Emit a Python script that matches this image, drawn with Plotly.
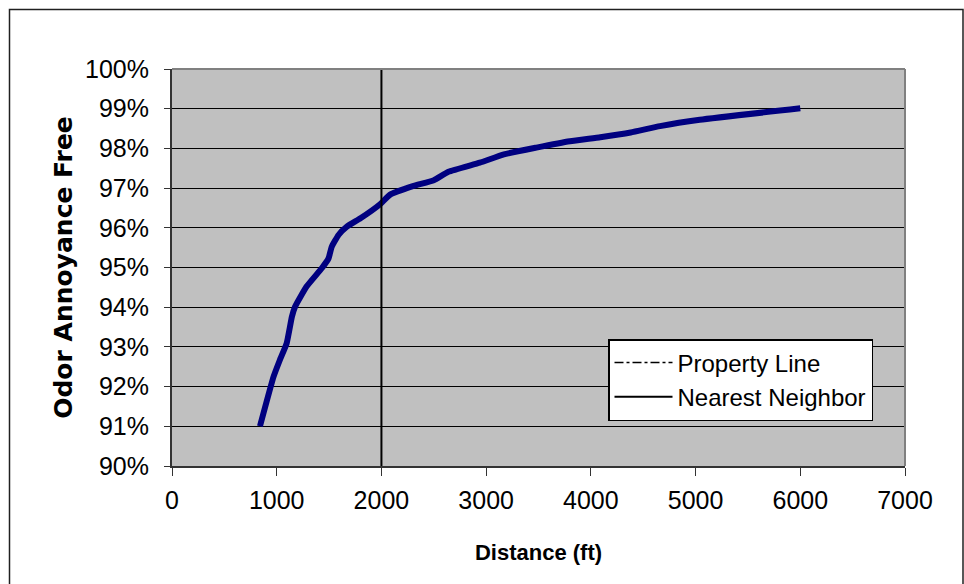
import plotly.graph_objects as go

# Odor annoyance-free frequency versus downwind distance
distance_ft = [840, 970, 1030, 1095, 1145, 1175, 1285, 1430, 1495, 1525, 1590, 1670,
               1800, 1990, 2080, 2300, 2500, 2640, 2940, 3170, 3480, 3800, 4090,
               4380, 4660, 5040, 6000]
annoyance_free = [0.9100, 0.9225, 0.9267, 0.9309, 0.9376, 0.9401, 0.9452, 0.9498,
                  0.9523, 0.9552, 0.9582, 0.9603, 0.9624, 0.9660, 0.9683, 0.9705,
                  0.9720, 0.9741, 0.9764, 0.9785, 0.9802, 0.9818, 0.9828, 0.9840,
                  0.9856, 0.9872, 0.9901]

nearest_neighbor_ft = 2000
y_range = [0.90, 1.00]
x_range = [0, 7000]

FONT = "Liberation Sans, Arial, sans-serif"
WIDE_FONT = "DejaVu Sans, Liberation Sans, sans-serif"

fig = go.Figure()

# Curve (not listed in the legend)
fig.add_trace(go.Scatter(
    x=distance_ft, y=annoyance_free, mode="lines",
    line=dict(color="#000080", width=6, shape="spline", smoothing=0.4),
    showlegend=False, hoverinfo="skip",
))

# Property line marker: legend entry only
fig.add_trace(go.Scatter(
    x=[None], y=[None], mode="lines", name="Property Line",
    line=dict(color="black", width=1.5, dash="dashdot"),
))

# Nearest neighbor distance
fig.add_trace(go.Scatter(
    x=[nearest_neighbor_ft, nearest_neighbor_ft], y=y_range, mode="lines",
    name="Nearest Neighbor", line=dict(color="black", width=2),
))

W, H = 964, 584
L, R, T, B = 172, 59, 69, 118
pw, ph = W - L - R, H - T - B


def px_x(p):
    return (p - L) / pw


def px_y(p):
    return (H - B - p) / ph


fig.update_layout(
    width=W, height=H,
    margin=dict(l=L, r=R, t=T, b=B),
    paper_bgcolor="white",
    plot_bgcolor="#C0C0C0",
    font=dict(family=FONT, color="black", size=24),
    legend=dict(
        x=px_x(608), y=px_y(339), xanchor="left", yanchor="top",
        bgcolor="white", bordercolor="black", borderwidth=1.5,
        font=dict(family=FONT, size=24, color="black"),
        tracegroupgap=0, itemwidth=58,
    ),
    xaxis=dict(
        range=x_range, dtick=1000, tick0=0,
        showgrid=False, zeroline=False,
        showline=True, linecolor="#333333", linewidth=2,
        ticks="outside", ticklen=8, tickwidth=1, tickcolor="#333333",
        tickfont=dict(family=FONT, size=25),
        ticklabelstandoff=3,
        title=dict(text="<b>Distance (ft)</b>", font=dict(family=FONT, size=22),
                   standoff=32),
    ),
    yaxis=dict(
        range=y_range, dtick=0.01, tick0=0.90, tickformat=".0%",
        showgrid=True, gridcolor="black", gridwidth=1,
        zeroline=False,
        showline=True, linecolor="#333333", linewidth=2,
        ticks="outside", ticklen=6, tickwidth=1, tickcolor="#333333",
        tickfont=dict(family=FONT, size=25),
        ticklabelstandoff=10,
        title=dict(text="<b>Odor Annoyance Free</b>",
                   font=dict(family=WIDE_FONT, size=25),
                   standoff=5),
    ),
    shapes=[
        # top and right edges of the plot area
        dict(type="line", xref="paper", yref="paper", x0=0, x1=1, y0=1, y1=1,
             line=dict(color="#808080", width=2), layer="above"),
        dict(type="line", xref="paper", yref="paper", x0=1, x1=1, y0=0, y1=1,
             line=dict(color="#808080", width=2), layer="above"),
        # outer chart frame
        dict(type="rect", xref="paper", yref="paper",
             x0=px_x(9.5), x1=px_x(963), y0=px_y(600), y1=px_y(9.5),
             line=dict(color="#202020", width=1.5), layer="above"),
    ],
)

fig.write_html("out.html")
